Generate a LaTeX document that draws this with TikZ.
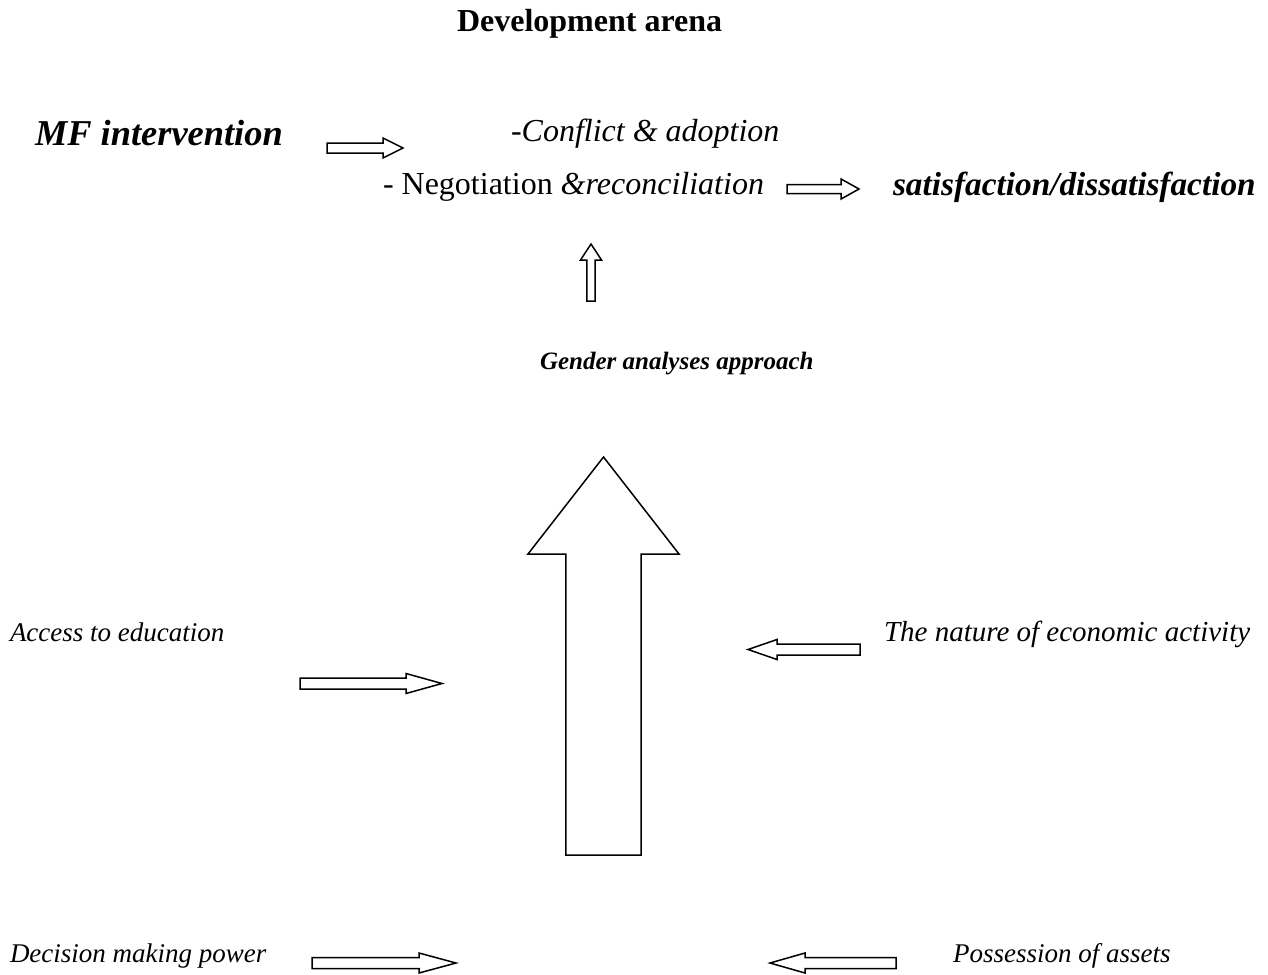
\documentclass[tikz,border=0pt]{standalone}
\usepackage{fontspec}
\setmainfont{Liberation Serif}
\tikzset{
  lbl/.style={anchor=base west, inner sep=0pt, outer sep=0pt},
  blockarrow/.style={draw=black, line width=1.5pt, line join=miter, fill=white},
}
% horizontal block arrow: tail x, step x, tip x, centre y, shaft half, head half
\newcommand\hblk[6]{\path[blockarrow] (#1,#4-#5) -- (#2,#4-#5) -- (#2,#4-#6) -- (#3,#4) -- (#2,#4+#6) -- (#2,#4+#5) -- (#1,#4+#5) -- cycle;}
% vertical block arrow: centre x, tail y, step y, tip y, shaft half, head half
\newcommand\vblk[6]{\path[blockarrow] (#1-#5,#2) -- (#1-#5,#3) -- (#1-#6,#3) -- (#1,#4) -- (#1+#6,#3) -- (#1+#5,#3) -- (#1+#5,#2) -- cycle;}
\begin{document}
\begin{tikzpicture}[x=1pt,y=-1pt]
\useasboundingbox (0,0) rectangle (1268,974);
\clip (0,0) rectangle (1268,974);
\fill[white] (0,0) rectangle (1268,974);

\node[lbl] (dev) at (457,32) {\fontsize{32}{38}\selectfont\bfseries Development arena};
\node[lbl] (mf) at (35,145) {\fontsize{36.4}{42}\selectfont\bfseries\itshape MF intervention};
\node[lbl] (conf) at (511,141) {\fontsize{32}{38}\selectfont\itshape -Conflict \& adoption};
\node[lbl] (neg) at (383,194) {\fontsize{32}{38}\selectfont - Negotiation \textit{\&reconciliation}};
\node[lbl] (sat) at (893,195) {\fontsize{33.3}{38}\selectfont\bfseries\itshape satisfaction/dissatisfaction};
\node[lbl] (gen) at (540,369) {\fontsize{25}{30}\selectfont\bfseries\itshape Gender analyses approach};
\node[lbl] (acc) at (10,641) {\fontsize{27}{32}\selectfont\itshape Access to education};
\node[lbl] (nat) at (884,641) {\fontsize{29}{34}\selectfont\itshape The nature of economic activity};
\node[lbl] (dec) at (10,962) {\fontsize{27}{32}\selectfont\itshape Decision making power};
\node[lbl] (pos) at (953,962) {\fontsize{27}{32}\selectfont\itshape Possession of assets};

\hblk{327}{383}{403}{148}{5}{10}
\hblk{787}{841}{859}{189}{4.5}{10}
\vblk{591}{301}{260}{244}{4.2}{10.5}
\vblk{603.5}{855}{554}{457}{37.7}{75.5}
\hblk{300}{406}{442}{683.5}{5.5}{10}
\hblk{860}{777}{748}{649.5}{5.5}{10}
\hblk{312}{419}{456}{963}{5.5}{10}
\hblk{896}{805}{770}{963}{5.5}{10}
\end{tikzpicture}
\end{document}
